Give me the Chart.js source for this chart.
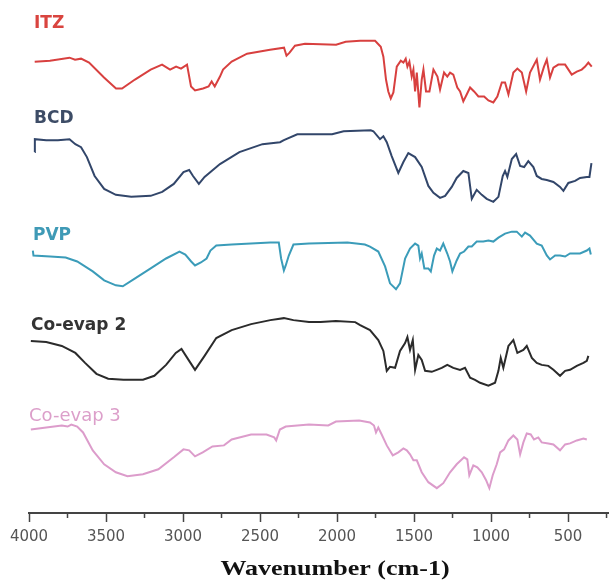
<!DOCTYPE html>
<html>
<head>
<meta charset="utf-8">
<script src="https://cdn.jsdelivr.net/npm/chart.js@4.4.1/dist/chart.umd.min.js"></script>
<style>
    html, body { margin: 0; padding: 0; background: #fff; }
    #wrap { width: 609px; height: 585px; }
</style>
</head>
<body>
<div id="wrap"><canvas id="ftirChart"></canvas></div>
<script>
// FTIR spectra, stacked with offsets (arbitrary transmittance units)
var traceNames = ['ITZ', 'BCD', 'PVP', 'Co-evap 2', 'Co-evap 3'];
var xTickLabels = [4000, 3500, 3000, 2500, 2000, 1500, 1000, 500];
var xMinorTicks = [3750, 3250, 2750, 2250, 1750, 1250, 750, 250];
var xAxisTitle = 'Wavenumber (cm-1)';

var itzWavenumber = [3963, 3864, 3737, 3701, 3662, 3610, 3513, 3435, 3396, 3312, 3210, 3136, 3084, 3045, 3013, 2974, 2948, 2922, 2870, 2834, 2814, 2794, 2760, 2740, 2684, 2584, 2435, 2344, 2328, 2308, 2273, 2208, 2006, 1944, 1850, 1753, 1716, 1699, 1682, 1667, 1651, 1634, 1612, 1586, 1569, 1554, 1543, 1530, 1515, 1504, 1493, 1482, 1465, 1450, 1439, 1422, 1400, 1374, 1348, 1331, 1305, 1284, 1266, 1245, 1219, 1201, 1180, 1158, 1136, 1110, 1082, 1045, 1017, 985, 959, 930, 909, 887, 855, 829, 800, 772, 747, 703, 682, 656, 638, 617, 595, 563, 519, 476, 443, 411, 389, 368, 346];
var itzSignal = [454, 455, 458, 456, 457, 453, 438, 427, 427, 436, 446, 451, 446, 449, 447, 451, 429, 425, 427, 429, 434, 429, 439, 446, 454, 462, 466, 468, 460, 463, 470, 472, 471, 474, 475, 475, 469, 459, 436, 424, 417, 423, 449, 455, 453, 457, 449, 454, 439, 446, 424, 443, 408, 436, 446, 424, 424, 446, 439, 426, 443, 439, 443, 441, 428, 424, 414, 421, 428, 424, 419, 419, 415, 413, 419, 433, 433, 421, 443, 447, 443, 424, 443, 456, 436, 449, 456, 438, 448, 451, 451, 441, 444, 446, 449, 453, 449];

var bcdWavenumber = [3963, 3962, 3888, 3812, 3737, 3699, 3662, 3624, 3574, 3512, 3436, 3336, 3210, 3135, 3060, 2997, 2960, 2935, 2897, 2860, 2760, 2634, 2484, 2370, 2345, 2258, 2032, 1957, 1781, 1764, 1721, 1699, 1677, 1645, 1602, 1569, 1537, 1493, 1450, 1407, 1374, 1331, 1298, 1255, 1223, 1180, 1147, 1125, 1093, 1060, 1028, 985, 952, 924, 909, 894, 865, 837, 811, 785, 758, 725, 703, 671, 638, 595, 552, 530, 498, 454, 422, 378, 361, 348];
var bcdSignal = [363, 376, 375, 375, 376, 371, 368, 358, 339, 326, 320, 318, 319, 323, 331, 343, 345, 339, 331, 338, 351, 363, 371, 373, 375, 381, 381, 384, 385, 384, 376, 379, 373, 359, 342, 353, 362, 358, 348, 329, 322, 317, 319, 328, 337, 344, 342, 316, 325, 320, 316, 313, 318, 339, 344, 338, 356, 361, 349, 348, 354, 348, 339, 336, 335, 333, 328, 324, 332, 334, 337, 338, 338, 352];

var pvpWavenumber = [3975, 3971, 3862, 3762, 3687, 3586, 3512, 3436, 3391, 3311, 3210, 3110, 3023, 2985, 2947, 2922, 2884, 2847, 2822, 2784, 2684, 2433, 2378, 2363, 2345, 2333, 2313, 2283, 2182, 1932, 1819, 1786, 1732, 1688, 1656, 1617, 1591, 1558, 1526, 1493, 1472, 1461, 1450, 1433, 1407, 1391, 1370, 1352, 1331, 1310, 1284, 1266, 1251, 1223, 1201, 1175, 1147, 1125, 1093, 1050, 1017, 985, 952, 909, 865, 833, 800, 779, 747, 703, 671, 638, 617, 584, 552, 519, 487, 422, 378, 361, 352];
var pvpSignal = [264, 259, 258, 257, 253, 243, 234, 229, 228, 236, 246, 256, 263, 260, 253, 249, 252, 256, 264, 269, 270, 272, 272, 256, 244, 249, 259, 270, 271, 272, 270, 268, 263, 248, 231, 225, 231, 256, 266, 271, 269, 256, 261, 246, 246, 243, 259, 266, 264, 271, 261, 253, 243, 254, 261, 263, 268, 268, 273, 273, 274, 273, 277, 281, 283, 283, 278, 282, 279, 271, 269, 259, 255, 259, 259, 258, 261, 261, 264, 266, 260];

var coevap2Wavenumber = [3988, 3888, 3787, 3699, 3636, 3562, 3486, 3386, 3260, 3186, 3110, 3047, 3010, 2960, 2922, 2860, 2784, 2684, 2558, 2433, 2345, 2283, 2182, 2107, 2007, 1882, 1850, 1786, 1732, 1699, 1677, 1656, 1623, 1591, 1558, 1543, 1526, 1508, 1493, 1472, 1450, 1428, 1385, 1352, 1320, 1284, 1245, 1201, 1169, 1136, 1104, 1071, 1017, 974, 952, 937, 920, 887, 855, 829, 790, 768, 735, 703, 671, 628, 595, 552, 519, 487, 443, 400, 378, 368];
var coevap2Signal = [173, 172, 168, 161, 151, 140, 135, 134, 134, 138, 149, 161, 165, 153, 144, 158, 176, 184, 190, 194, 196, 194, 192, 192, 193, 192, 189, 184, 174, 163, 143, 147, 146, 163, 171, 177, 164, 174, 144, 159, 154, 143, 142, 144, 146, 149, 146, 144, 146, 136, 134, 131, 128, 131, 143, 156, 146, 168, 174, 161, 164, 168, 156, 151, 149, 148, 144, 138, 143, 144, 148, 151, 153, 158];

var coevap3Wavenumber = [3988, 3888, 3787, 3749, 3725, 3687, 3649, 3586, 3512, 3436, 3361, 3260, 3160, 3060, 2997, 2960, 2922, 2872, 2809, 2734, 2684, 2558, 2458, 2408, 2395, 2371, 2333, 2182, 2057, 2007, 1856, 1786, 1760, 1747, 1732, 1710, 1677, 1638, 1602, 1569, 1547, 1526, 1504, 1482, 1450, 1407, 1352, 1310, 1266, 1223, 1175, 1154, 1141, 1115, 1089, 1060, 1032, 1011, 989, 963, 941, 915, 887, 855, 829, 811, 790, 768, 742, 721, 693, 671, 628, 595, 552, 519, 487, 443, 400, 378];
var coevap3Signal = [84, 86, 88, 87, 89, 87, 81, 63, 49, 41, 37, 39, 44, 56, 64, 63, 57, 61, 67, 68, 74, 79, 79, 76, 73, 84, 87, 89, 88, 92, 93, 91, 88, 81, 86, 79, 68, 58, 61, 65, 63, 59, 53, 53, 41, 31, 25, 30, 41, 49, 56, 54, 38, 48, 46, 41, 33, 25, 38, 49, 61, 64, 73, 78, 74, 59, 71, 80, 79, 74, 76, 71, 70, 69, 63, 69, 70, 73, 75, 74];

var traceColors = ['#d8403f', '#32466a', '#3b9cb9', '#2b2b2b', '#dc9ccb'];
var labelColors = ['#d9443f', '#3d4c66', '#3f9ab6', '#333333', '#dc9fca'];
var labelPos = [[34, 28], [34, 123], [33, 240], [31, 330], [29, 421]];
var labelFonts = ['bold 17px', 'bold 17px', 'bold 17px', 'bold 17px', '18px'];

function toPoints(xs, ys) {
    var pts = [];
    for (var i = 0; i < xs.length; i++) {
        pts.push({x: xs[i], y: ys[i]});
    }
    return pts;
}

var seriesX = [itzWavenumber, bcdWavenumber, pvpWavenumber, coevap2Wavenumber, coevap3Wavenumber];
var seriesY = [itzSignal, bcdSignal, pvpSignal, coevap2Signal, coevap3Signal];

var datasets = [];
for (var s = 0; s < traceNames.length; s++) {
    datasets.push({
        label: traceNames[s],
        data: toPoints(seriesX[s], seriesY[s]),
        borderColor: traceColors[s],
        borderWidth: 2,
        pointRadius: 0,
        tension: 0,
        fill: false
    });
}

// minor ticks, trace names and the (slightly wide) axis title
var extrasPlugin = {
    id: 'extras',
    afterDraw: function (chart) {
        var ctx = chart.ctx;
        var xs = chart.scales.x;
        var base = chart.chartArea.bottom;
        ctx.save();
        ctx.strokeStyle = '#444';
        ctx.lineWidth = 1.5;
        xMinorTicks.forEach(function (v) {
            var px = xs.getPixelForValue(v);
            ctx.beginPath();
            ctx.moveTo(px, base);
            ctx.lineTo(px, base + 5);
            ctx.stroke();
        });
        ctx.textBaseline = 'alphabetic';
        ctx.textAlign = 'left';
        for (var i = 0; i < traceNames.length; i++) {
            ctx.font = labelFonts[i] + ' "DejaVu Sans", sans-serif';
            ctx.fillStyle = labelColors[i];
            ctx.fillText(traceNames[i], labelPos[i][0], labelPos[i][1]);
        }
        // axis title
        ctx.font = 'bold 21px "Liberation Serif", "Times New Roman", serif';
        ctx.fillStyle = '#111';
        ctx.textAlign = 'center';
        ctx.translate(335, 575);
        ctx.scale(1.24, 1);
        ctx.fillText(xAxisTitle, 0, 0);
        ctx.restore();
    }
};

var ctx = document.getElementById('ftirChart').getContext('2d');
new Chart(ctx, {
    type: 'line',
    data: {datasets: datasets},
    plugins: [extrasPlugin],
    options: {
        responsive: true,
        maintainAspectRatio: false,
        animation: false,
        layout: {padding: {left: 29, right: 0, top: 0, bottom: 33}},
        plugins: {
            legend: {display: false},
            tooltip: {enabled: false}
        },
        scales: {
            x: {
                type: 'linear',
                reverse: true,
                min: 234,
                max: 4000,
                afterBuildTicks: function (axis) {
                    axis.ticks = xTickLabels.map(function (v) { return {value: v}; });
                },
                border: {display: true, color: '#444', width: 2},
                grid: {
                    drawOnChartArea: false,
                    drawTicks: true,
                    tickLength: 9,
                    tickWidth: 1.5,
                    tickColor: '#444'
                },
                ticks: {
                    autoSkip: false,
                    maxRotation: 0,
                    padding: 6,
                    color: '#555',
                    font: {family: '"DejaVu Sans", sans-serif', size: 15},
                    callback: function (v) {
                        return String(v);
                    }
                }
            },
            y: {
                display: false,
                min: 0,
                max: 516
            }
        }
    }
});
</script>
</body>
</html>
